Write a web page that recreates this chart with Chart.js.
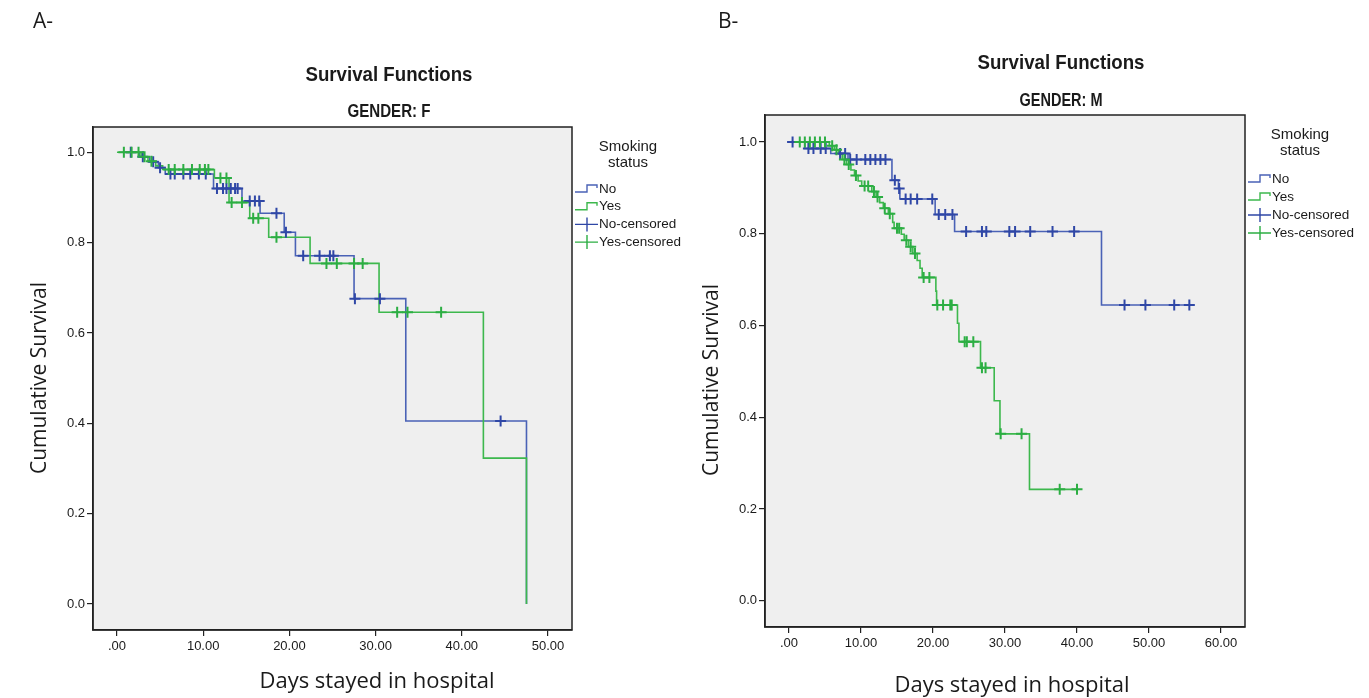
<!DOCTYPE html>
<html>
<head>
<meta charset="utf-8">
<title>Survival Functions</title>
<script src="https://cdn.jsdelivr.net/npm/chart.js@4.4.1/dist/chart.umd.min.js"></script>
<style>
  body { margin: 0; background: #fff; }
  .wrap { position: relative; width: 1369px; height: 698px; overflow: hidden; }
  .wrap canvas { position: absolute; left: 0; top: 0; }
</style>
</head>
<body>
<div class="wrap">
  <canvas id="chartF" width="1369" height="698"></canvas>
  <canvas id="chartM" width="1369" height="698"></canvas>
</div>
<script>
// ---- data ----
// A: GENDER F  (event times / survival after the step)
const fNoTimes = [1.3, 2.6, 3.8, 4.8, 5.6, 11.2, 14.5, 16.6, 19.4, 20.7, 27.5, 33.5, 47.5];
const fNoSurv  = [1.0, 0.990, 0.979, 0.966, 0.952, 0.920, 0.892, 0.865, 0.823, 0.771, 0.676, 0.405, 0.0];
const fNoCensored = [1.6, 3.0, 4.2, 5.0, 6.2, 6.7, 7.7, 8.5, 9.5, 10.3, 11.6, 12.3, 12.7, 13.2, 13.7, 14.0,
                     15.4, 16.0, 16.5, 18.5, 19.6, 21.6, 23.5, 24.7, 25.1, 27.6, 30.5, 44.5];

const fYesTimes = [0.0, 2.8, 3.6, 4.5, 5.3, 11.3, 13.0, 15.4, 17.6, 22.4, 30.4, 42.5, 47.5];
const fYesSurv  = [1.0, 0.990, 0.980, 0.970, 0.962, 0.943, 0.889, 0.854, 0.812, 0.754, 0.646, 0.323, 0.0];
const fYesCensored = [0.8, 1.7, 2.5, 3.2, 4.0, 6.0, 6.7, 7.7, 8.7, 9.6, 10.2, 10.6, 12.0, 12.7, 13.3, 14.5,
                      15.8, 16.4, 18.5, 24.3, 25.5, 27.5, 28.5, 32.5, 33.7, 37.6];

// B: GENDER M
const mNoTimes = [0.0, 2.2, 5.8, 8.2, 14.3, 15.2, 15.4, 20.3, 23.0, 43.4, 55.9];
const mNoSurv  = [1.0, 0.986, 0.975, 0.962, 0.917, 0.899, 0.876, 0.842, 0.805, 0.645, 0.645];
const mNoCensored = [0.5, 2.7, 3.4, 4.4, 5.1, 7.1, 7.8, 8.5, 9.4, 10.6, 11.3, 12.0, 12.7, 13.4, 14.7, 15.3,
                     16.2, 16.9, 17.8, 19.9, 20.8, 21.7, 22.7, 24.6, 26.8, 27.4, 30.6, 31.4, 33.5, 36.6, 39.6,
                     46.6, 49.5, 53.5, 55.6];

const mYesTimes = [1.2, 5.6, 6.3, 6.9, 7.4, 8.0, 8.6, 9.1, 9.6, 10.1, 11.5, 12.1, 12.6, 13.1, 13.8, 14.4, 14.6,
                   15.6, 16.0, 16.6, 17.2, 17.8, 18.2, 18.5, 20.4, 20.5, 23.4, 23.6, 26.6, 28.5, 29.3, 33.4, 40.0];
const mYesSurv  = [1.0, 0.992, 0.983, 0.974, 0.962, 0.951, 0.939, 0.927, 0.915, 0.904, 0.892, 0.880, 0.868, 0.856,
                   0.844, 0.825, 0.812, 0.799, 0.786, 0.772, 0.757, 0.742, 0.725, 0.705, 0.675, 0.645, 0.605, 0.565,
                   0.508, 0.436, 0.364, 0.243, 0.243];
const mYesCensored = [1.5, 2.2, 2.9, 3.6, 4.3, 5.0, 6.0, 6.6, 7.7, 8.3, 9.3, 10.5, 11.0, 11.8, 12.3, 13.3, 14.0,
                      15.0, 15.3, 16.3, 16.9, 17.5, 18.7, 19.5, 20.6, 21.4, 22.4, 22.6, 24.4, 24.7, 25.6, 26.8,
                      27.3, 29.4, 32.3, 37.6, 40.0];

// tick labels
const xTicksF = [0, 10, 20, 30, 40, 50];
const xTicksM = [0, 10, 20, 30, 40, 50, 60];
const yTicks  = [0, 0.2, 0.4, 0.6, 0.8, 1.0];

const legendLabels = ['No', 'Yes', 'No-censored', 'Yes-censored'];

// colours
const BLUE_LINE = '#4a62b6';
const BLUE_MARK = '#2f47a6';
const GREEN_LINE = '#3db84d';
const GREEN_MARK = '#2cae43';

const SANS = '"Liberation Sans", Arial, sans-serif';
const HUMAN = '"Open Sans", "Noto Sans", sans-serif';

// survival value of the step curve at time t
function survAt(times, surv, t) {
  let s = surv[0];
  for (let i = 0; i < times.length; i++) {
    if (times[i] <= t) s = surv[i];
  }
  return s;
}

function stepPoints(times, surv) {
  return times.map((t, i) => ({x: t, y: surv[i]}));
}

function censPoints(times, surv, cens) {
  return cens.map(t => ({x: t, y: survAt(times, surv, t)}));
}

function txt(ctx, text, x, y, font, align, maxW) {
  ctx.font = font;
  ctx.textAlign = align;
  ctx.textBaseline = 'middle';
  ctx.fillStyle = '#1a1a1a';
  if (maxW) ctx.fillText(text, x, y, maxW);
  else ctx.fillText(text, x, y);
}

// background, frame, titles and the SPSS style legend
const panelDeco = {
  id: 'panelDeco',
  beforeDraw(chart) {
    const a = chart.chartArea;
    const ctx = chart.ctx;
    ctx.save();
    ctx.fillStyle = '#efefef';
    ctx.fillRect(a.left, a.top, a.right - a.left, a.bottom - a.top);
    ctx.restore();
  },
  afterDraw(chart, args, o) {
    const a = chart.chartArea;
    const ctx = chart.ctx;
    ctx.save();
    ctx.strokeStyle = '#222';
    ctx.lineWidth = 1.5;
    ctx.strokeRect(a.left, a.top, a.right - a.left, a.bottom - a.top);

    txt(ctx, o.panel, o.panelX, o.panelY, '21px ' + HUMAN, 'left');
    txt(ctx, 'Survival Functions', o.titleX, o.titleY, 'bold 21px ' + SANS, 'center', 167);
    txt(ctx, o.subtitle, o.titleX, o.subY, 'bold 18px ' + SANS, 'center', 83);

    txt(ctx, 'Days stayed in hospital', o.xTitleX, o.xTitleY, '22px ' + HUMAN, 'center', 253);
    ctx.save();
    ctx.translate(o.yTitleX, o.yTitleY);
    ctx.rotate(-Math.PI / 2);
    txt(ctx, 'Cumulative Survival', 0, 0, '21px ' + HUMAN, 'center', 222);
    ctx.restore();

    // legend
    txt(ctx, 'Smoking', o.legCenter, o.legTop, '15px ' + SANS, 'center');
    txt(ctx, 'status', o.legCenter, o.legTop + 16, '15px ' + SANS, 'center');
    const cols = [BLUE_LINE, GREEN_LINE, BLUE_MARK, GREEN_MARK];
    legendLabels.forEach((lab, i) => {
      const y = o.legRow0 + i * o.legGap;
      const x0 = o.legX;
      ctx.strokeStyle = cols[i];
      ctx.lineWidth = 1.4;
      ctx.beginPath();
      if (i < 2) {
        ctx.moveTo(x0, y + 3);
        ctx.lineTo(x0 + 12, y + 3);
        ctx.lineTo(x0 + 12, y - 4);
        ctx.lineTo(x0 + 22, y - 4);
        ctx.lineTo(x0 + 22, y - 1);
      } else {
        ctx.moveTo(x0, y);
        ctx.lineTo(x0 + 23, y);
        ctx.moveTo(x0 + 12, y - 7);
        ctx.lineTo(x0 + 12, y + 7);
      }
      ctx.stroke();
      txt(ctx, lab, x0 + 24, y, '13.5px ' + SANS, 'left');
    });
    ctx.restore();
  }
};

function makePanel(id, p) {
  const datasets = [
    {
      label: 'Yes-censored',
      data: censPoints(p.yesT, p.yesS, p.yesC),
      showLine: false,
      pointStyle: 'cross',
      pointRadius: 5.5,
      pointBorderWidth: 2,
      borderColor: GREEN_MARK,
      backgroundColor: GREEN_MARK
    },
    {
      label: 'No-censored',
      data: censPoints(p.noT, p.noS, p.noC),
      showLine: false,
      pointStyle: 'cross',
      pointRadius: 5.5,
      pointBorderWidth: 2,
      borderColor: BLUE_MARK,
      backgroundColor: BLUE_MARK
    },
    {
      label: 'Yes',
      data: stepPoints(p.yesT, p.yesS),
      stepped: true,
      borderColor: GREEN_LINE,
      borderWidth: 1.6,
      pointRadius: 0,
      fill: false
    },
    {
      label: 'No',
      data: stepPoints(p.noT, p.noS),
      stepped: true,
      borderColor: BLUE_LINE,
      borderWidth: 1.6,
      pointRadius: 0,
      fill: false
    }
  ];

  return new Chart(document.getElementById(id), {
    type: 'line',
    data: {datasets: datasets},
    plugins: [panelDeco],
    options: {
      responsive: false,
      animation: false,
      events: [],
      layout: {padding: p.padding},
      plugins: {
        legend: {display: false},
        tooltip: {enabled: false},
        panelDeco: p.deco
      },
      scales: {
        x: {
          type: 'linear',
          min: p.xMin,
          max: p.xMax,
          afterBuildTicks: scale => { scale.ticks = p.xTicks.map(v => ({value: v})); },
          afterFit: scale => { scale.height = p.xHeight; },
          grid: {drawOnChartArea: false, drawTicks: true, tickLength: 6, color: '#222', lineWidth: 1.2},
          border: {display: true, color: '#222', width: 1.5},
          ticks: {
            autoSkip: false,
            maxRotation: 0,
            padding: 3,
            color: '#1a1a1a',
            font: {family: SANS, size: 13},
            callback: v => v === 0 ? '.00' : v.toFixed(2)
          }
        },
        y: {
          type: 'linear',
          min: p.yMin,
          max: p.yMax,
          afterBuildTicks: scale => { scale.ticks = yTicks.map(v => ({value: v})); },
          afterFit: scale => { scale.width = 93; },
          grid: {drawOnChartArea: false, drawTicks: true, tickLength: 6, color: '#222', lineWidth: 1.2},
          border: {display: true, color: '#222', width: 1.5},
          ticks: {
            padding: 2,
            color: '#1a1a1a',
            font: {family: SANS, size: 13},
            callback: v => v.toFixed(1)
          }
        }
      }
    }
  });
}

makePanel('chartF', {
  noT: fNoTimes, noS: fNoSurv, noC: fNoCensored,
  yesT: fYesTimes, yesS: fYesSurv, yesC: fYesCensored,
  xTicks: xTicksF,
  xMin: -2.78, xMax: 52.78, yMin: -0.0576, yMax: 1.056,
  padding: {left: 0, top: 127, right: 797, bottom: 0},
  xHeight: 68,
  deco: {
    panel: 'A-', panelX: 33, panelY: 22,
    subtitle: 'GENDER: F', titleX: 389, titleY: 75, subY: 112,
    xTitleX: 377, xTitleY: 682, yTitleX: 40, yTitleY: 378,
    legCenter: 628, legTop: 147, legRow0: 189, legGap: 17.7, legX: 575
  }
});

makePanel('chartM', {
  noT: mNoTimes, noS: mNoSurv, noC: mNoCensored,
  yesT: mYesTimes, yesS: mYesSurv, yesC: mYesCensored,
  xTicks: xTicksM,
  xMin: -3.33, xMax: 63.33, yMin: -0.057, yMax: 1.059,
  padding: {left: 672, top: 115, right: 124, bottom: 0},
  xHeight: 71,
  deco: {
    panel: 'B-', panelX: 718, panelY: 22,
    subtitle: 'GENDER: M', titleX: 1061, titleY: 63, subY: 101,
    xTitleX: 1012, xTitleY: 686, yTitleX: 712, yTitleY: 380,
    legCenter: 1300, legTop: 135, legRow0: 179, legGap: 18, legX: 1248
  }
});
</script>
</body>
</html>
